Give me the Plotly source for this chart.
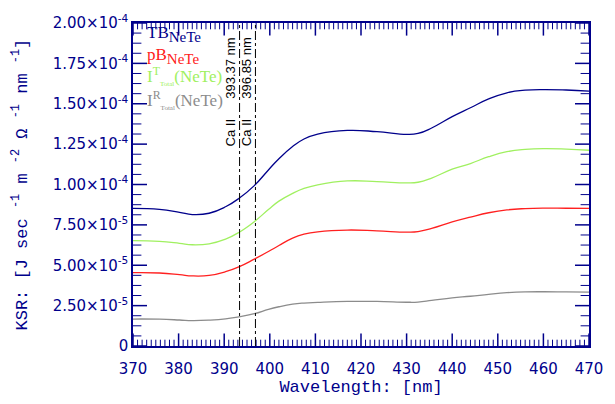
import plotly.graph_objects as go

wavelength = [370, 375.8, 380.2, 383, 386.7, 390.3, 393.2, 396.6, 399.7, 402, 405, 407.5, 410.5,
              417, 423.5, 430, 432.5, 435.5, 440, 444, 448, 452, 456, 460, 465, 470]

tb = [8.52e-5, 8.46e-5, 8.28e-5, 8.14e-5, 8.22e-5, 8.62e-5, 9.13e-5, 9.93e-5, 1.09e-4, 1.16e-4,
      1.235e-4, 1.282e-4, 1.312e-4, 1.335e-4, 1.327e-4, 1.31e-4, 1.316e-4, 1.35e-4, 1.42e-4,
      1.475e-4, 1.53e-4, 1.568e-4, 1.584e-4, 1.588e-4, 1.585e-4, 1.578e-4]

pb = [4.54e-5, 4.52e-5, 4.42e-5, 4.34e-5, 4.37e-5, 4.6e-5, 4.9e-5, 5.38e-5, 5.85e-5, 6.22e-5,
      6.68e-5, 6.92e-5, 7.07e-5, 7.18e-5, 7.13e-5, 7.05e-5, 7.08e-5, 7.28e-5, 7.68e-5, 7.98e-5,
      8.25e-5, 8.43e-5, 8.51e-5, 8.54e-5, 8.53e-5, 8.52e-5]

it_total = [6.53e-5, 6.48e-5, 6.36e-5, 6.27e-5, 6.33e-5, 6.62e-5, 7.03e-5, 7.7e-5, 8.45e-5, 8.97e-5,
            9.45e-5, 9.76e-5, 9.98e-5, 1.022e-4, 1.018e-4, 1.01e-4, 1.014e-4, 1.04e-4, 1.095e-4,
            1.13e-4, 1.172e-4, 1.203e-4, 1.217e-4, 1.222e-4, 1.219e-4, 1.212e-4]

ir_total = [1.67e-5, 1.66e-5, 1.61e-5, 1.57e-5, 1.6e-5, 1.68e-5, 1.81e-5, 2.0e-5, 2.27e-5, 2.43e-5,
            2.59e-5, 2.66e-5, 2.7e-5, 2.76e-5, 2.76e-5, 2.71e-5, 2.72e-5, 2.82e-5, 2.98e-5, 3.08e-5,
            3.2e-5, 3.3e-5, 3.35e-5, 3.36e-5, 3.35e-5, 3.34e-5]

ca_lines = [393.37, 396.85]
ca_labels = ["393.37 nm", "396.85 nm"]

x_range = [370, 470]
y_range = [0, 2e-4]
y_tickvals = [0, 2.5e-5, 5e-5, 7.5e-5, 1e-4, 1.25e-4, 1.5e-4, 1.75e-4, 2e-4]
y_ticktext = ["0", "2.50×10<sup>-5</sup>", "5.00×10<sup>-5</sup>", "7.50×10<sup>-5</sup>",
              "1.00×10<sup>-4</sup>", "1.25×10<sup>-4</sup>", "1.50×10<sup>-4</sup>",
              "1.75×10<sup>-4</sup>", "2.00×10<sup>-4</sup>"]
x_tickvals = list(range(370, 471, 10))
x_minor_vals = [v for v in range(370, 471, 1) if v % 10 != 0]
y_minor_vals = [i * 6.25e-6 for i in range(33) if i % 4 != 0]

NAVY = "#00008b"
RED = "#ff2020"
GREEN = "#a0f060"
GRAY = "#8c8c8c"
series = [(tb, NAVY), (pb, RED), (it_total, GREEN), (ir_total, GRAY)]

fig = go.Figure()
for ys, col in series:
    fig.add_trace(go.Scatter(x=wavelength, y=ys, mode="lines",
                             line=dict(color=col, width=1.3, shape="spline", smoothing=1.3),
                             showlegend=False, hoverinfo="skip"))

# inward tick marks on all four sides (half of each marker is clipped by the plot area)
def tick_trace(xs, ys, symbol, size, width):
    return go.Scatter(x=xs, y=ys, mode="markers", cliponaxis=True, showlegend=False,
                      hoverinfo="skip",
                      marker=dict(symbol=symbol, size=size, color=NAVY,
                                  line=dict(color=NAVY, width=width)))

for yedge in y_range:
    fig.add_trace(tick_trace(x_tickvals, [yedge] * len(x_tickvals), "line-ns", 18, 1.5))
    fig.add_trace(tick_trace(x_minor_vals, [yedge] * len(x_minor_vals), "line-ns", 9, 1))
for xedge in x_range:
    fig.add_trace(tick_trace([xedge] * len(y_tickvals), y_tickvals, "line-ew", 20, 1.5))
    fig.add_trace(tick_trace([xedge] * len(y_minor_vals), y_minor_vals, "line-ew", 12, 1))

for xv in ca_lines:
    fig.add_shape(type="line", x0=xv, x1=xv, xref="x", yref="paper", y0=0, y1=1,
                  line=dict(color="black", width=1, dash="dashdot"))

for xv, lab in zip(ca_lines, ca_labels):
    fig.add_annotation(x=xv, y=0.86, xref="x", yref="paper", text=lab, textangle=-90,
                       showarrow=False, xanchor="center", yanchor="middle", xshift=-9,
                       font=dict(family="Liberation Sans", size=13, color="black"))
    fig.add_annotation(x=xv, y=0.66, xref="x", yref="paper", text="Ca II", textangle=-90,
                       showarrow=False, xanchor="center", yanchor="middle", xshift=-9,
                       font=dict(family="Liberation Sans", size=13, color="black"))

SUB = "<sub><span style='font-size:15px'>NeTe</span></sub>"
TOT = "<sub><span style='font-size:7px'>Total</span></sub>"
legend_items = [
    ("TB" + SUB, NAVY, 0.966),
    ("pB" + SUB, RED, 0.899),
    ("I<sup>T</sup>" + TOT + "(NeTe)", GREEN, 0.835),
    ("I<sup>R</sup>" + TOT + "(NeTe)", GRAY, 0.763),
]
for txt, col, yp in legend_items:
    fig.add_annotation(x=0.027, y=yp, xref="paper", yref="paper", text=txt, showarrow=False,
                       xanchor="left", yanchor="middle",
                       font=dict(family="Liberation Serif", size=17, color=col))

NB = "\u00a0"
ytitle = ("KSR:" + NB + "[J" + NB + "sec" + NB + "<sup>-1</sup>" + NB + "m" + NB + "<sup>-2</sup>"
          + NB + "Ω" + NB + "<sup>-1</sup>" + NB + "nm" + NB + "<sup>-1</sup>]")
fig.add_annotation(x=0, y=0.5, xref="paper", yref="paper", text=ytitle, textangle=-90,
                   showarrow=False, xanchor="center", yanchor="middle", xshift=-113,
                   font=dict(family="Liberation Mono", size=17, color=NAVY))

fig.update_xaxes(range=x_range, tickmode="array", tickvals=x_tickvals, ticks="",
                 showline=True, linecolor=NAVY, linewidth=1.5, mirror=True,
                 showgrid=False, zeroline=False, ticklabelstandoff=8,
                 tickfont=dict(family="DejaVu Sans", size=15, color=NAVY),
                 title=dict(text="Wavelength: [nm]", standoff=2,
                            font=dict(family="Liberation Mono", size=17, color=NAVY)))
fig.update_yaxes(range=y_range, tickmode="array", tickvals=y_tickvals, ticktext=y_ticktext,
                 ticks="", showline=True, linecolor=NAVY, linewidth=1.5, mirror=True,
                 showgrid=False, zeroline=False,
                 tickfont=dict(family="DejaVu Sans", size=15, color=NAVY))

fig.update_layout(width=615, height=404, margin=dict(l=133, r=20, t=12, b=57),
                  paper_bgcolor="white", plot_bgcolor="white")

fig.write_html("out.html")
